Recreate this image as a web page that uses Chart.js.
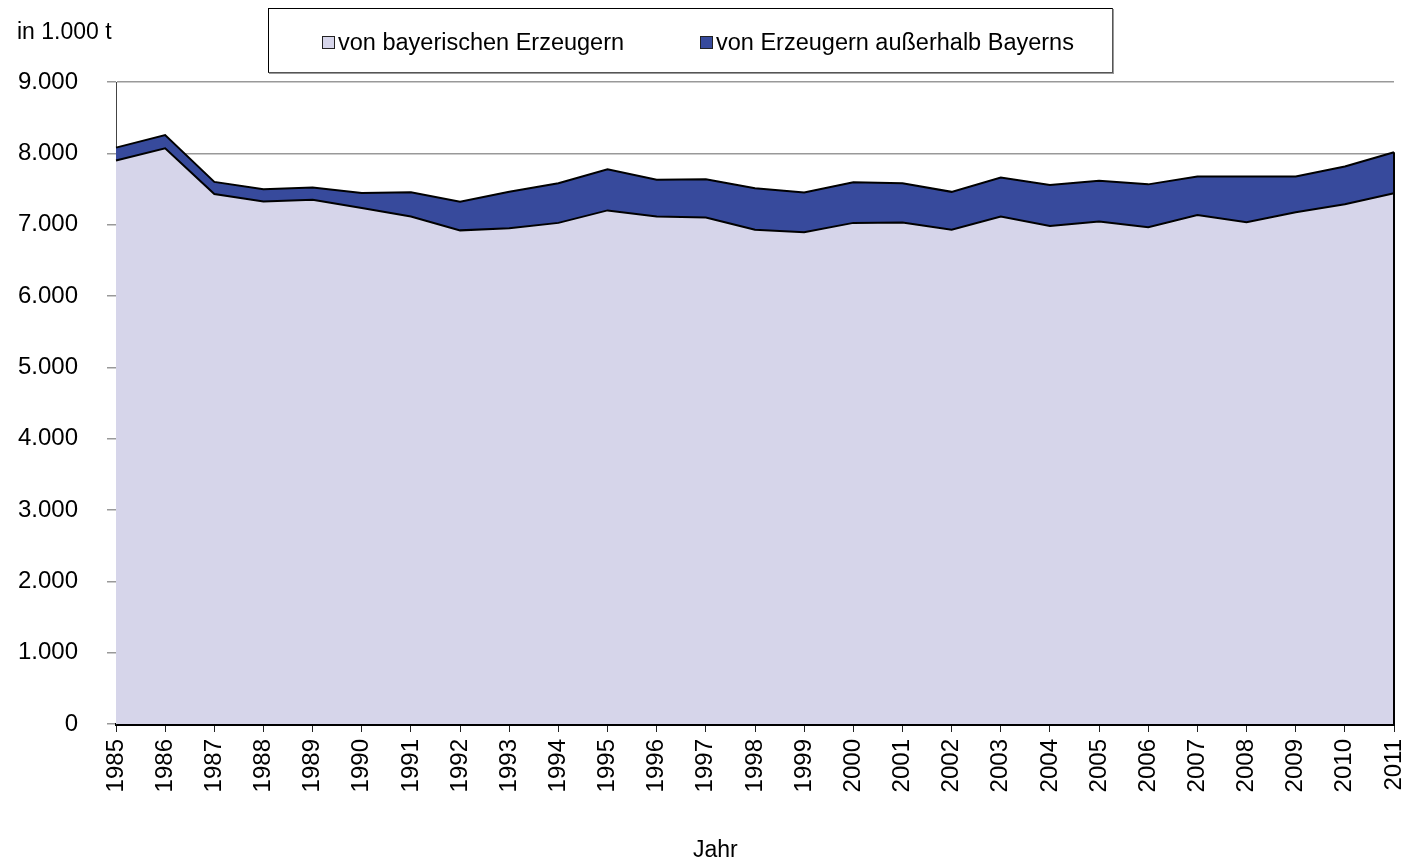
<!DOCTYPE html>
<html>
<head>
<meta charset="utf-8">
<script src="https://cdn.jsdelivr.net/npm/chart.js@4.4.1/dist/chart.umd.min.js"></script>
<style>
    body { margin: 0; background: #fff; font-family: "Liberation Sans", Arial, sans-serif; }
    #wrap { position: relative; width: 1406px; height: 861px; }
    #unit { position: absolute; left: 17px; top: 18px; font-size: 23px; line-height: 26px; color: #000; }
    #xtitle { position: absolute; left: 693px; top: 836px; font-size: 23px; line-height: 26px; color: #000; }
    #legend { position: absolute; left: 268px; top: 8px; width: 843px; height: 63px;
        border: 1px solid #000; border-right-color: #555; border-bottom-color: #555;
        box-shadow: 1px 1px 0 #999; background: #fff; }
    .item { position: absolute; top: 20px; font-size: 23.5px; line-height: 26px; white-space: nowrap; }
    .item span { display: inline-block; width: 11px; height: 11px; border: 1.5px solid #222;
        margin-right: 3px; vertical-align: 1px; }
</style>
</head>
<body>
<div id="wrap">
    <canvas id="chart" width="1406" height="861"></canvas>
    <div id="unit">in 1.000 t</div>
    <div id="xtitle">Jahr</div>
    <div id="legend">
        <div class="item" style="left:53px"><span style="background:#d6d5ea"></span>von bayerischen Erzeugern</div>
        <div class="item" style="left:431px"><span style="background:#374a9c"></span>von Erzeugern außerhalb Bayerns</div>
    </div>
</div>
<script>
var years = ['1985', '1986', '1987', '1988', '1989', '1990', '1991', '1992', '1993', '1994',
    '1995', '1996', '1997', '1998', '1999', '2000', '2001', '2002', '2003', '2004',
    '2005', '2006', '2007', '2008', '2009', '2010', '2011'];
// von bayerischen Erzeugern
var bayern = [7900, 8070, 7430, 7325, 7350, 7235, 7115, 6920, 6950, 7025,
    7200, 7115, 7100, 6930, 6895, 7025, 7030, 6930, 7115, 6980,
    7045, 6965, 7135, 7035, 7175, 7285, 7440];
// Gesamt (obere Kante)
var gesamt = [8080, 8255, 7600, 7495, 7520, 7445, 7455, 7320, 7460, 7580,
    7775, 7630, 7635, 7510, 7450, 7595, 7580, 7460, 7660, 7555,
    7615, 7565, 7675, 7675, 7675, 7815, 8015];
// von Erzeugern außerhalb Bayerns
var ausserhalb = [];
for (var i in gesamt) {
    ausserhalb.push(gesamt[i] - bayern[i]);
}

// draws the right edge of the stacked areas, like the original outline
var edgePlugin = {
    id: 'edge',
    afterDatasetsDraw: function (chart) {
        var ctx = chart.ctx;
        var top = chart.getDatasetMeta(1).data;
        var last = top[top.length - 1];
        var y0 = chart.scales.y.getPixelForValue(0);
        ctx.save();
        ctx.strokeStyle = '#000';
        ctx.lineWidth = 2;
        ctx.beginPath();
        ctx.moveTo(last.x, last.y);
        ctx.lineTo(last.x, y0);
        ctx.stroke();
        ctx.restore();
    }
};

var font = { family: "'Liberation Sans', Arial, sans-serif", size: 24 };

var config = {
    type: 'line',
    data: {
        labels: years,
        datasets: [
            {
                label: 'von bayerischen Erzeugern',
                data: bayern,
                backgroundColor: '#d6d5ea',
                borderColor: '#000',
                borderWidth: 2,
                fill: 'origin',
                pointRadius: 0,
                tension: 0
            }, {
                label: 'von Erzeugern außerhalb Bayerns',
                data: ausserhalb,
                backgroundColor: '#374a9c',
                borderColor: '#000',
                borderWidth: 2,
                fill: '-1',
                pointRadius: 0,
                tension: 0
            }]
    },
    options: {
        responsive: false,
        animation: false,
        layout: {
            padding: { left: 0, right: 12, top: 82, bottom: 0 }
        },
        plugins: {
            legend: { display: false },
            tooltip: { enabled: false }
        },
        scales: {
            x: {
                offset: false,
                afterFit: function (scale) {
                    scale.height = 137;
                    scale.paddingLeft = 0;
                    scale.paddingRight = 0;
                },
                grid: {
                    display: true,
                    drawOnChartArea: false,
                    drawTicks: true,
                    tickLength: 8,
                    color: '#222'
                },
                border: { color: '#000', width: 3 },
                ticks: {
                    color: '#000',
                    font: font,
                    maxRotation: 90,
                    minRotation: 90,
                    autoSkip: false,
                    padding: 7
                }
            },
            y: {
                stacked: true,
                min: 0,
                max: 9000,
                afterFit: function (scale) {
                    scale.width = 116;
                },
                grid: {
                    color: '#999',
                    tickLength: 9,
                    lineWidth: 1.5
                },
                border: { color: '#444', width: 1 },
                ticks: {
                    stepSize: 1000,
                    color: '#000',
                    font: font,
                    padding: 29,
                    callback: function (v) {
                        return v.toLocaleString('de-DE');
                    }
                }
            }
        }
    },
    plugins: [edgePlugin]
};

var myChart = new Chart(document.getElementById('chart').getContext('2d'), config);
</script>
</body>
</html>
